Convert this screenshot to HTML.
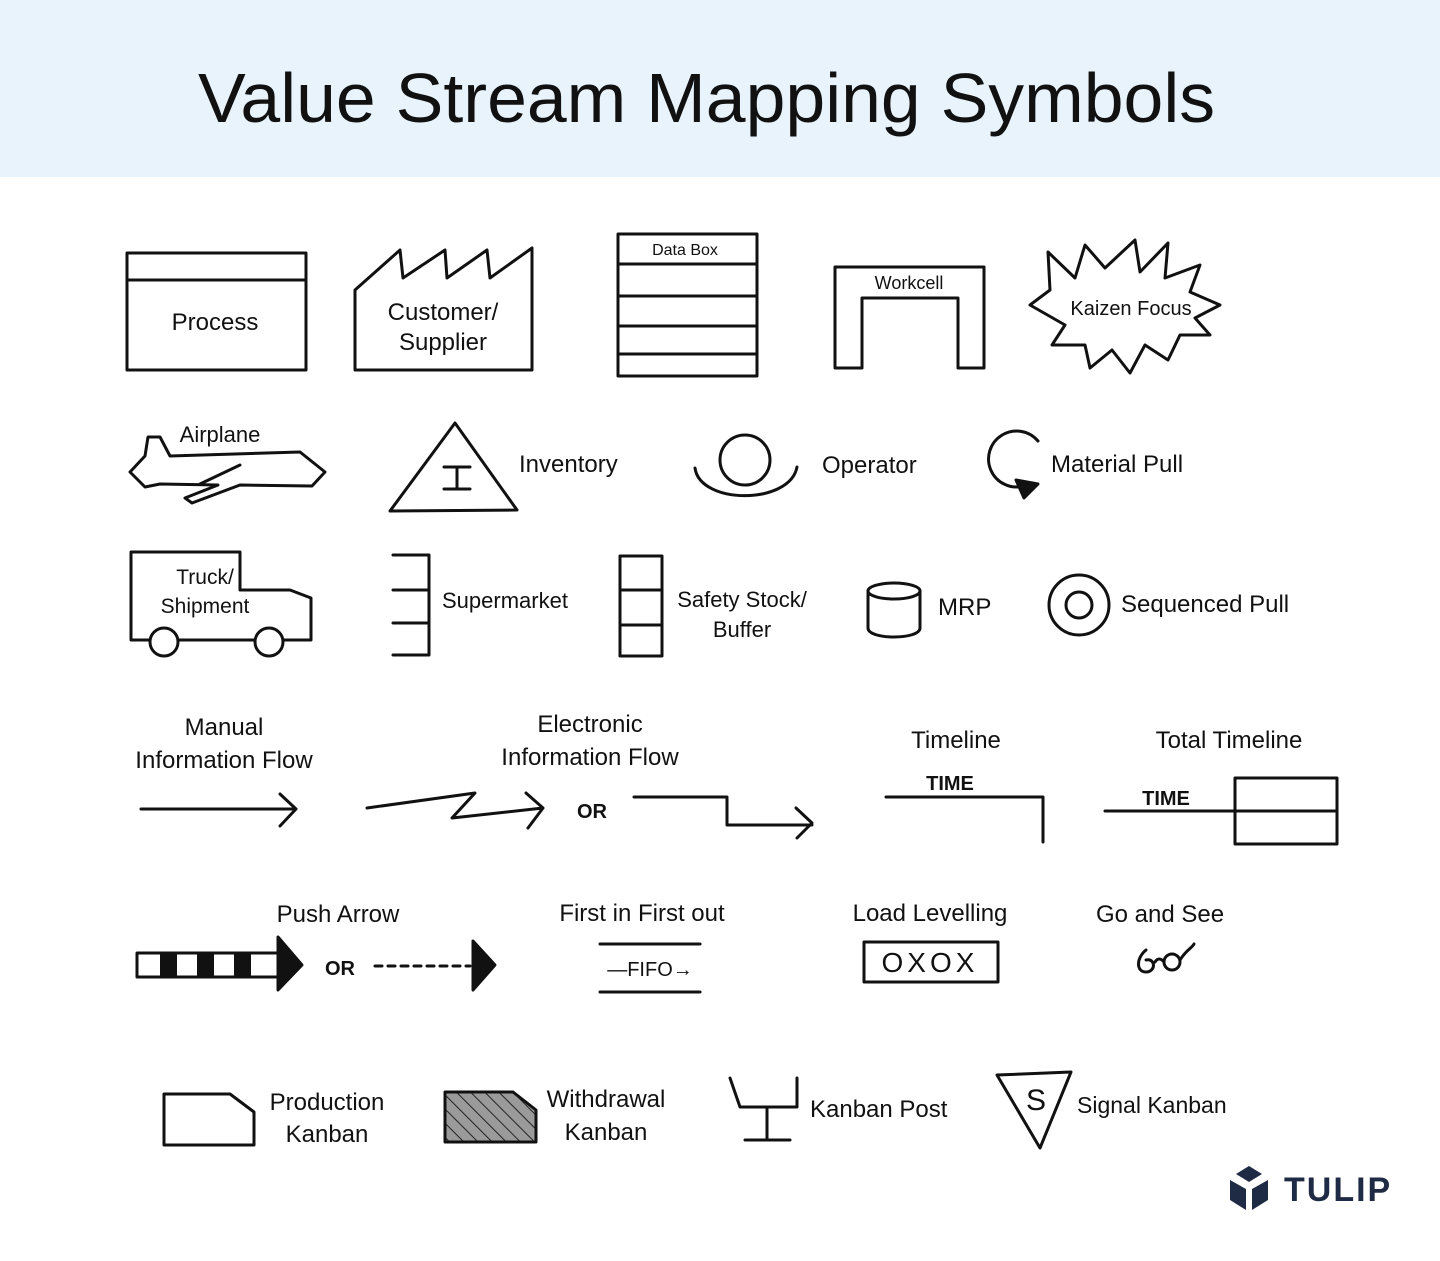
<!DOCTYPE html>
<html><head><meta charset="utf-8"><style>
html,body{margin:0;padding:0;background:#fff}
svg{display:block}
text{font-family:"Liberation Sans",sans-serif;fill:#111}
</style></head><body>
<svg width="1440" height="1261" viewBox="0 0 1440 1261" xmlns="http://www.w3.org/2000/svg">
<defs>
<pattern id="hatch" width="10" height="10" patternUnits="userSpaceOnUse" patternTransform="rotate(-45)">
<rect width="10" height="10" fill="#9a9a9a"/><line x1="0" y1="0" x2="0" y2="10" stroke="#222" stroke-width="2"/>
</pattern>
</defs>
<rect x="0" y="0" width="1440" height="177" fill="#e8f3fb"/>
<text x="198" y="122" font-size="70" textLength="1017" lengthAdjust="spacingAndGlyphs">Value Stream Mapping Symbols</text>

<g fill="none" stroke="#111" stroke-width="3" stroke-linejoin="round" stroke-linecap="round">
<!-- row1 -->
<rect x="127" y="253" width="179" height="117"/><line x1="127" y1="280" x2="306" y2="280"/>
<polygon points="355,370 355,290 400,250 403,278 445,250 447,278 487,250 490,278 532,248 532,370"/>
<rect x="618" y="234" width="139" height="142"/>
<line x1="618" y1="264" x2="757" y2="264"/><line x1="618" y1="296" x2="757" y2="296"/><line x1="618" y1="326" x2="757" y2="326"/><line x1="618" y1="354" x2="757" y2="354"/>
<polygon points="835,368 835,267 984,267 984,368 958,368 958,298 862,298 862,368"/>
<polygon points="1050,290 1048,252 1075,278 1085,245 1105,268 1135,240 1140,272 1168,243 1165,278 1200,265 1190,292 1220,305 1195,318 1210,335 1180,335 1168,360 1145,345 1130,373 1112,350 1090,368 1085,345 1052,345 1065,325 1030,305"/>
<!-- row2 -->
<path d="M130,472 L145,456 L148,437 L160,437 L170,456 L300,452 L325,472 L312,486 L240,485 L192,503 L185,498 L218,485 L160,484 L145,487 Z"/>
<path d="M200,484 L240,465"/>
<polygon points="390,511 455,423 517,510"/>
<path d="M444,467 H470 M457,467 V489 M444,489 H470"/>
<circle cx="745" cy="460" r="25"/>
<path d="M695,468 C700,505 790,505 797,467"/>
<path d="M1038,441 A28,28 0 1 0 1024,486"/>
<polygon points="1016,480 1038,484 1024,498" fill="#111"/>
<!-- row3 -->
<polygon points="131,640 131,552 240,552 240,590 290,590 311,598 311,640"/>
<circle cx="164" cy="642" r="14" fill="#fff"/><circle cx="269" cy="642" r="14" fill="#fff"/>
<path d="M429,555 V655 M393,555 H429 M393,590 H429 M393,623 H429 M393,655 H429"/>
<rect x="620" y="556" width="42" height="100"/><line x1="620" y1="590" x2="662" y2="590"/><line x1="620" y1="625" x2="662" y2="625"/>
<ellipse cx="894" cy="591" rx="26" ry="8"/>
<path d="M868,591 V628 C868,640 920,640 920,628 V591"/>
<circle cx="1079" cy="605" r="30"/><circle cx="1079" cy="605" r="13"/>
<!-- row4 -->
<path d="M141,809 H296 M280,794 L296,809 L280,826"/>
<path d="M367,808 L475,793 L452,818 L543,808 M526,793 L543,808 L528,828"/>
<path d="M634,797 H727 V825 H812 M796,808 L812,823 L797,838"/>
<path d="M886,797 H1043 V842"/>
<path d="M1105,811 H1235"/><rect x="1235" y="778" width="102" height="66"/><line x1="1235" y1="811" x2="1337" y2="811"/>
<!-- row5 -->
<rect x="137" y="953" width="141" height="24"/>
<polygon points="278,937 302,965 278,990" fill="#111"/>
<path d="M375,966 H470" stroke-dasharray="7,6"/>
<polygon points="473,941 495,965 473,990" fill="#111"/>
<line x1="600" y1="944" x2="700" y2="944"/><line x1="600" y1="992" x2="700" y2="992"/>
<rect x="864" y="942" width="134" height="40"/>
<path d="M1146,950 C1136,958 1136,972 1146,972 C1156,972 1156,958 1146,960"/>
<circle cx="1172" cy="962" r="8"/>
<path d="M1155,962 Q1159,956 1164,962 M1180,960 C1186,950 1192,948 1194,944"/>
<!-- row6 -->
<polygon points="164,1145 164,1094 230,1094 254,1112 254,1145"/>
<polygon points="445,1142 445,1092 513,1092 536,1110 536,1142" fill="url(#hatch)"/>
<path d="M730,1078 L740,1107 H797 V1078 M767,1107 V1140 M745,1140 H790"/>
<polygon points="997,1075 1071,1072 1040,1148"/>
</g>
<g fill="#111">
<rect x="160" y="953" width="17" height="24"/><rect x="197" y="953" width="17" height="24"/><rect x="234" y="953" width="17" height="24"/>
</g>

<g font-size="24" text-anchor="middle">
<text x="215" y="330">Process</text>
<text x="443" y="320">Customer/</text><text x="443" y="350">Supplier</text>
<text x="685" y="255" font-size="16">Data Box</text>
<text x="909" y="289" font-size="18">Workcell</text>
<text x="1131" y="315" font-size="20">Kaizen Focus</text>
<text x="220" y="442" font-size="22">Airplane</text>
<text x="205" y="584" font-size="21">Truck/</text><text x="205" y="613" font-size="21">Shipment</text>
<text x="742" y="607" font-size="22">Safety Stock/</text><text x="742" y="637" font-size="22">Buffer</text>
<text x="224" y="735">Manual</text><text x="224" y="768">Information Flow</text>
<text x="590" y="732">Electronic</text><text x="590" y="765">Information Flow</text>
<text x="956" y="748">Timeline</text>
<text x="1229" y="748">Total Timeline</text>
<text x="338" y="922">Push Arrow</text>
<text x="642" y="921">First in First out</text>
<text x="930" y="921">Load Levelling</text>
<text x="1160" y="922">Go and See</text>
<text x="327" y="1110">Production</text><text x="327" y="1142">Kanban</text>
<text x="606" y="1107">Withdrawal</text><text x="606" y="1140">Kanban</text>
<text x="950" y="790" font-size="20" font-weight="bold">TIME</text>
<text x="1166" y="805" font-size="20" font-weight="bold">TIME</text>
<text x="592" y="818" font-size="20" font-weight="bold">OR</text>
<text x="340" y="975" font-size="20" font-weight="bold">OR</text>
<text x="650" y="976" font-size="20">—FIFO→</text>
<text x="930" y="972" font-size="28" letter-spacing="4">OXOX</text>
<text x="1036" y="1110" font-size="30">S</text>
</g>
<g font-size="24">
<text x="519" y="472">Inventory</text>
<text x="822" y="473">Operator</text>
<text x="1051" y="472">Material Pull</text>
<text x="442" y="608" font-size="22">Supermarket</text>
<text x="938" y="615">MRP</text>
<text x="1121" y="612">Sequenced Pull</text>
<text x="810" y="1117">Kanban Post</text>
<text x="1077" y="1113" font-size="23">Signal Kanban</text>
</g>
<!-- Tulip logo -->
<g fill="#1f2a44">
<polygon points="1249,1166 1262,1174 1249,1182 1236,1174"/>
<polygon points="1230,1180 1246,1189 1246,1210 1230,1200"/>
<polygon points="1268,1180 1252,1189 1252,1210 1268,1200"/>
<text x="1284" y="1201" font-size="34" font-weight="bold" style="fill:#1f2a44" letter-spacing="2">TULIP</text>
</g>
</svg>
</body></html>
